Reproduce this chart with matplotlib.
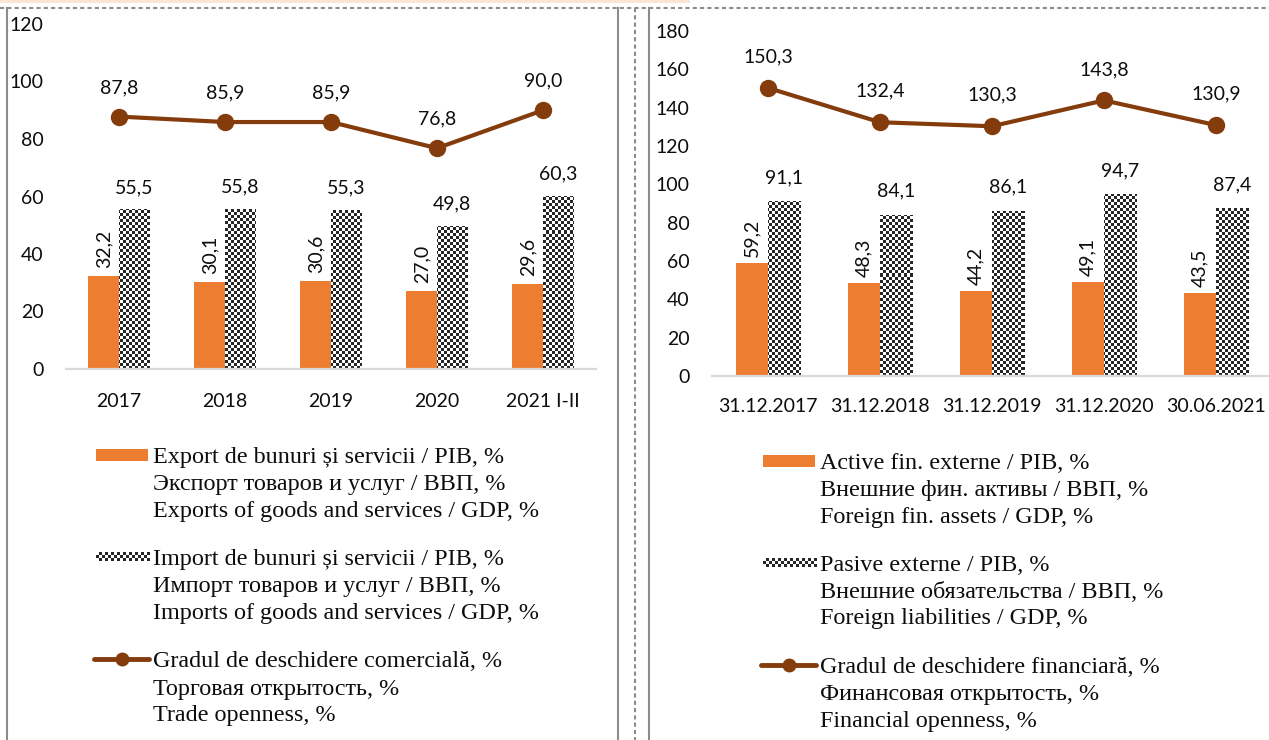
import numpy as np
import matplotlib
matplotlib.use("Agg")
import matplotlib.pyplot as plt
from matplotlib.colors import ListedColormap
from matplotlib.patches import Rectangle
from matplotlib.lines import Line2D

# ---------------- data ----------------
trade_years = ["2017", "2018", "2019", "2020", "2021 I-II"]
exports = [32.2, 30.1, 30.6, 27.0, 29.6]
imports = [55.5, 55.8, 55.3, 49.8, 60.3]
trade_open = [87.8, 85.9, 85.9, 76.8, 90.0]

fin_dates = ["31.12.2017", "31.12.2018", "31.12.2019", "31.12.2020", "30.06.2021"]
assets = [59.2, 48.3, 44.2, 49.1, 43.5]
liabilities = [91.1, 84.1, 86.1, 94.7, 87.4]
fin_open = [150.3, 132.4, 130.3, 143.8, 130.9]

left_ticks = [0, 20, 40, 60, 80, 100, 120]
right_ticks = [0, 20, 40, 60, 80, 100, 120, 140, 160, 180]

left_legend = [
    ["Export de bunuri și servicii / PIB, %", "Экспорт товаров и услуг / ВВП, %",
     "Exports of goods and services / GDP, %"],
    ["Import de bunuri și servicii / PIB, %", "Импорт товаров и услуг / ВВП, %",
     "Imports of goods and services / GDP, %"],
    ["Gradul de deschidere comercială, %", "Торговая открытость, %", "Trade openness, %"],
]
right_legend = [
    ["Active fin. externe / PIB, %", "Внешние фин. активы / ВВП, %", "Foreign fin. assets / GDP, %"],
    ["Pasive externe / PIB, %", "Внешние обязательства / ВВП, %", "Foreign liabilities / GDP, %"],
    ["Gradul de deschidere financiară, %", "Финансовая открытость, %", "Financial openness, %"],
]

# ---------------- style ----------------
W, H, DPI = 1269, 740, 100
ORANGE = "#ED7D31"
BROWN = "#843C0C"
DARK = "#262626"
TXT = "#0d0d0d"
FRAME = "#8C8C8C"
SANS = ["Lato", "DejaVu Sans"]
SERIF = ["Liberation Serif", "DejaVu Serif"]
checker_cmap = ListedColormap(["white", DARK])
CELL = 3  # px

fig = plt.figure(figsize=(W / DPI, H / DPI), dpi=DPI)

# overlay in pixel coordinates for frames and legends
ov = fig.add_axes([0, 0, 1, 1], zorder=0)
ov.set_xlim(0, W)
ov.set_ylim(H, 0)
ov.set_axis_off()


def fmt(v):
    return f"{v:.1f}".replace(".", ",")


def px_axes(x0, x1, y_top, y_bot):
    return fig.add_axes([x0 / W, (H - y_bot) / H, (x1 - x0) / W, (y_bot - y_top) / H], zorder=1)


def checker_board(wpx, hpx):
    nx, ny = int(np.ceil(wpx / CELL)), int(np.ceil(hpx / CELL))
    i, j = np.indices((ny, nx))
    return (i + j) % 2, nx * CELL, ny * CELL


def panel(ax, cats, a_vals, b_vals, line_vals, ticks, ymax, xright, wpx, hpx,
          line_off, bar_off, rot_off, xpad):
    x = np.arange(len(cats))
    bw = 0.29
    ax.bar(x - bw / 2, a_vals, bw, color=ORANGE, zorder=2)
    bars_b = ax.bar(x + bw / 2, b_vals, bw, color="white", zorder=2)
    board, bw_px, bh_px = checker_board(wpx, hpx)
    x0, x1 = -0.5, xright
    ext_x1 = x0 + (x1 - x0) * bw_px / wpx
    ext_y1 = ymax * bh_px / hpx
    for b in bars_b:
        im = ax.imshow(board, extent=(x0, ext_x1, 0, ext_y1), origin="lower", cmap=checker_cmap,
                       interpolation="nearest", aspect="auto", zorder=2.5)
        im.set_clip_path(b)
    ax.plot(x, line_vals, color=BROWN, lw=3.0, marker="o", ms=11.5, zorder=4,
            solid_capstyle="round")
    ax.set_xlim(x0, x1)
    ax.set_ylim(0, ymax)
    for xi, v in zip(x, line_vals):
        ax.annotate(fmt(v), (xi, v), xytext=(0, line_off), textcoords="offset pixels",
                    ha="center", va="center", fontsize=14, family=SANS, color=TXT)
    for xi, v in zip(x, b_vals):
        ax.annotate(fmt(v), (xi + bw / 2, v), xytext=(0, bar_off), textcoords="offset pixels",
                    ha="center", va="center", fontsize=14, family=SANS, color=TXT)
    for xi, v in zip(x, a_vals):
        ax.annotate(fmt(v), (xi - bw / 2, v), xytext=(0, rot_off), textcoords="offset pixels",
                    ha="center", va="bottom", rotation=90, fontsize=14, family=SANS, color=TXT)
    ax.set_xticks(x)
    ax.set_xticklabels(cats, fontsize=14, family=SANS, color=TXT)
    ax.set_yticks(ticks)
    ax.set_yticklabels([str(t) for t in ticks], fontsize=14, family=SANS, color=TXT)
    ax.tick_params(axis="both", length=0)
    ax.tick_params(axis="y", pad=16)
    ax.tick_params(axis="x", pad=xpad)
    for s in ["left", "right", "top"]:
        ax.spines[s].set_visible(False)
    ax.spines["bottom"].set_color("#D9D9D9")
    ax.spines["bottom"].set_linewidth(1.6)
    ax.spines["bottom"].set_zorder(5)
    ax.patch.set_alpha(0)


# left panel: x 66..596, y 0 at 369, 120 at 24
axL = px_axes(66, 596, 24, 369)
panel(axL, trade_years, exports, imports, trade_open, left_ticks, 120, 4.5, 530, 345,
      29, 22, 8, 17)

# right panel: x 712..1272, y 0 at 376, 180 at 31
axR = px_axes(712, 1272, 31, 376)
panel(axR, fin_dates, assets, liabilities, fin_open, right_ticks, 180, 4.5, 560, 345,
      31, 24, 6, 16)

# ---------------- frames ----------------
ov.add_patch(Rectangle((0, 0), 690, 3, color="#FBE5D6", lw=0))
ov.plot([0, W], [8, 8], color=FRAME, lw=1.5, ls=(0, (2, 1.5)))
for xv in [7, 618, 649]:
    ov.plot([xv, xv], [8, H], color=FRAME, lw=1.5)
ov.plot([635, 635], [8, H], color=FRAME, lw=1.5, ls=(0, (2, 1.5)))


# ---------------- legends ----------------
def legend(hx0, hx1, tx, centers, groups):
    # orange patch
    c0 = centers[0]
    ov.add_patch(Rectangle((hx0, c0 - 6), hx1 - hx0, 12, color=ORANGE, lw=0))
    # checker patch
    c1 = centers[3]
    board, bwp, bhp = checker_board(hx1 - hx0, 9)
    ov.imshow(board, extent=(hx0, hx0 + bwp, c1 + 4.5, c1 + 4.5 - bhp), origin="upper",
              cmap=checker_cmap, interpolation="nearest", aspect="auto")
    # line
    c2 = centers[6]
    ov.add_line(Line2D([hx0 - 2, hx1 + 1], [c2, c2], color=BROWN, lw=3.5,
                       solid_capstyle="round"))
    ov.add_line(Line2D([(hx0 + hx1) / 2], [c2], color=BROWN, marker="o", ms=9))
    k = 0
    for g in groups:
        for line in g:
            ov.text(tx, centers[k] + 8, line, ha="left", va="baseline", fontsize=17.4,
                    family=SERIF, color=TXT)
            k += 1


legend(96, 148, 153, [455, 482, 509, 557, 584, 611, 659, 687, 713], left_legend)
legend(763, 815, 820, [461, 488, 515, 563, 590, 616, 665, 692, 719], right_legend)

ov.set_xlim(0, W)
ov.set_ylim(H, 0)

fig.savefig("out.png", dpi=DPI)
